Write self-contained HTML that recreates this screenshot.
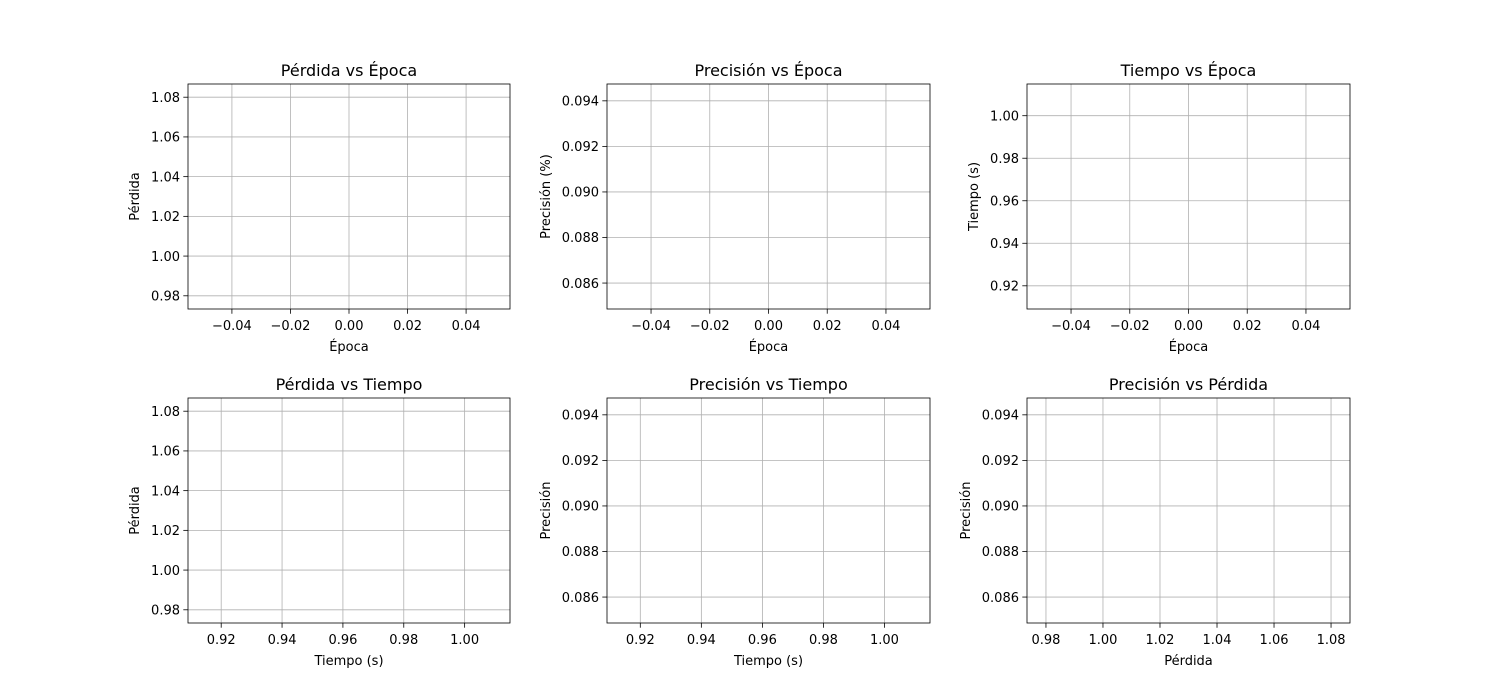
<!DOCTYPE html>
<html><head><meta charset="utf-8"><style>
html,body{margin:0;padding:0;background:#fff;}
svg{display:block;font-family:"DejaVu Sans","Liberation Sans",sans-serif;}
</style></head><body>
<svg id="fig" width="1500" height="700" viewBox="0 0 1500 700"></svg>
<script>
const epochs = [0];
const losses = [1.03];
const precisions = [0.0898];
const times = [0.962];
const epochTicks = [-0.04, -0.02, 0.00, 0.02, 0.04];
const lossTicks = [0.98, 1.00, 1.02, 1.04, 1.06, 1.08];
const precTicks = [0.086, 0.088, 0.090, 0.092, 0.094];
const timeTicks = [0.92, 0.94, 0.96, 0.98, 1.00];

const NS = "http://www.w3.org/2000/svg";
const svg = document.getElementById('fig');
function mk(tag, attrs, parent){const e=document.createElementNS(NS,tag);for(const k in attrs)e.setAttribute(k,attrs[k]);(parent||svg).appendChild(e);return e;}
function lim(arr){
  let lo=Math.min(...arr), hi=Math.max(...arr);
  if(lo===hi){ if(lo===0){lo=-0.05;hi=0.05;} else {const d=Math.abs(lo)*0.05; lo-=d; hi+=d;} }
  const m=(hi-lo)*0.05; return [lo-m, hi+m];
}
function fmt(v,dec){const s=Math.abs(v).toFixed(dec);return (v<-1e-12?'\u2212':'')+s;}

const cols=[[188,510],[607,930],[1027,1350]];
const rows=[[84,309],[398,623]];
const plots=[
 {t:'Pérdida vs Época',x:epochs,y:losses,xt:epochTicks,yt:lossTicks,xd:2,yd:2,xl:'Época',yl:'Pérdida',r:0,c:0,n:'loss-vs-epoch'},
 {t:'Precisión vs Época',x:epochs,y:precisions,xt:epochTicks,yt:precTicks,xd:2,yd:3,xl:'Época',yl:'Precisión (%)',r:0,c:1,n:'precision-vs-epoch'},
 {t:'Tiempo vs Época',x:epochs,y:times,xt:epochTicks,yt:timeTicks,xd:2,yd:2,xl:'Época',yl:'Tiempo (s)',r:0,c:2,n:'time-vs-epoch'},
 {t:'Pérdida vs Tiempo',x:times,y:losses,xt:timeTicks,yt:lossTicks,xd:2,yd:2,xl:'Tiempo (s)',yl:'Pérdida',r:1,c:0,n:'loss-vs-time'},
 {t:'Precisión vs Tiempo',x:times,y:precisions,xt:timeTicks,yt:precTicks,xd:2,yd:3,xl:'Tiempo (s)',yl:'Precisión',r:1,c:1,n:'precision-vs-time'},
 {t:'Precisión vs Pérdida',x:losses,y:precisions,xt:lossTicks,yt:precTicks,xd:2,yd:3,xl:'Pérdida',yl:'Precisión',r:1,c:2,n:'precision-vs-loss'}
];
plots.forEach(p=>{
  const [x0,x1]=cols[p.c], [y0,y1]=rows[p.r];
  const [xa,xb]=lim(p.x), [ya,yb]=lim(p.y);
  const sx=v=>x0+(v-xa)/(xb-xa)*(x1-x0);
  const sy=v=>y1-(v-ya)/(yb-ya)*(y1-y0);
  const g=mk('g',{});
  
  
  p.xt.forEach(v=>{
    const X=sx(v);
    mk('line',{x1:X,x2:X,y1:y0,y2:y1,stroke:'#b0b0b0','stroke-width':0.8},g);
    mk('line',{x1:X,x2:X,y1:y1,y2:y1+4.7,stroke:'#000','stroke-width':0.8},g);
    const t=mk('text',{x:X,y:y1+21,'font-size':13,'text-anchor':'middle',fill:'#000'},g);
    t.textContent=fmt(v,p.xd);
    
    
  });
  p.yt.forEach(v=>{
    const Y=sy(v);
    mk('line',{x1:x0,x2:x1,y1:Y,y2:Y,stroke:'#b0b0b0','stroke-width':0.8},g);
    mk('line',{x1:x0-4.7,x2:x0,y1:Y,y2:Y,stroke:'#000','stroke-width':0.8},g);
    const t=mk('text',{x:x0-8,y:Y+4.7,'font-size':13,'text-anchor':'end',fill:'#000'},g);
    t.textContent=fmt(v,p.yd);
    
    
  });
  const pts=p.x.map((v,i)=>sx(v)+','+sy(p.y[i])).join(' ');
  const line=mk('polyline',{points:pts,fill:'none',stroke:'#1f77b4','stroke-width':1.5},g);
  
  
  mk('rect',{x:x0,y:y0,width:x1-x0,height:y1-y0,fill:'none',stroke:'#000','stroke-width':0.8},g);
  const tt=mk('text',{x:(x0+x1)/2,y:y0-8,'font-size':16,'text-anchor':'middle',fill:'#000'},g);
  tt.textContent=p.t;
  
  
  const xl=mk('text',{x:(x0+x1)/2,y:y1+42,'font-size':13,'text-anchor':'middle',fill:'#000'},g);
  xl.textContent=p.xl;
  
  
  const yx = x0 - (p.yd===3?57:49);
  const yl=mk('text',{x:yx,y:(y0+y1)/2,'font-size':13,'text-anchor':'middle',fill:'#000',transform:`rotate(-90 ${yx} ${(y0+y1)/2})`},g);
  yl.textContent=p.yl;
  
  
});
</script>
</body></html>
